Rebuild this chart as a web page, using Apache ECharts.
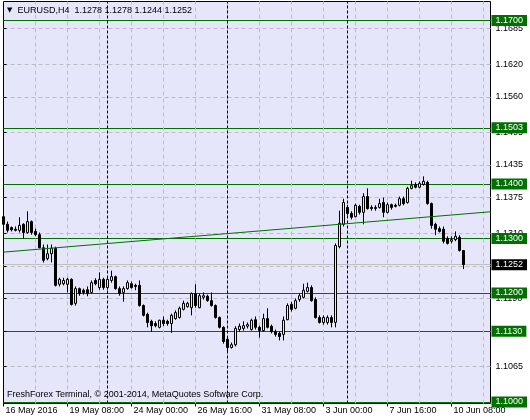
<!DOCTYPE html>
<html><head><meta charset="utf-8">
<script src="https://cdn.jsdelivr.net/npm/echarts@6/dist/echarts.min.js"></script>
<style>html,body{margin:0;padding:0;background:#fff}#c{width:530px;height:420px}</style>
</head><body><div id="c"></div>
<script>
// EURUSD H4 bars, 16 May 2016 16:00 .. 10 Jun 2016 20:00 (bar index 0..115)
const opens = [1.1340,1.1326,1.1320,1.1317,1.1315,1.1326,1.1311,1.1331,1.1313,1.1307,
1.1283,1.1263,1.1272,1.1282,1.1216,1.1217,1.1216,1.1225,1.1181,1.1208,
1.1205,1.1206,1.1201,1.1223,1.1210,1.1225,1.1210,1.1223,1.1230,1.1208,
1.1201,1.1208,1.1217,1.1214,1.1214,1.1177,1.1161,1.1148,1.1144,1.1137,
1.1150,1.1148,1.1144,1.1153,1.1155,1.1170,1.1175,1.1173,1.1199,1.1173,
1.1192,1.1194,1.1186,1.1177,1.1155,1.1137,1.1115,1.1100,1.1105,1.1133,
1.1135,1.1139,1.1133,1.1151,1.1137,1.1131,1.1153,1.1139,1.1129,1.1126,
1.1124,1.1151,1.1179,1.1172,1.1188,1.1192,1.1203,1.1210,1.1188,1.1155,
1.1146,1.1146,1.1155,1.1146,1.1285,1.1326,1.1357,1.1346,1.1340,1.1359,
1.1348,1.1377,1.1357,1.1355,1.1357,1.1366,1.1348,1.1362,1.1361,1.1361,
1.1373,1.1366,1.1392,1.1399,1.1394,1.1399,1.1403,1.1364,1.1326,1.1318,
1.1317,1.1300,1.1295,1.1298,1.1302,1.1278];
const highs = [1.1346,1.1331,1.1322,1.1322,1.1339,1.1328,1.1350,1.1333,1.1318,1.1311,
1.1289,1.1289,1.1289,1.1285,1.1228,1.1228,1.1228,1.1227,1.1212,1.1210,
1.1208,1.1212,1.1223,1.1227,1.1238,1.1228,1.1230,1.1241,1.1232,1.1212,
1.1212,1.1223,1.1221,1.1217,1.1223,1.1179,1.1164,1.1151,1.1148,1.1151,
1.1157,1.1151,1.1162,1.1168,1.1175,1.1186,1.1184,1.1201,1.1216,1.1199,
1.1201,1.1197,1.1201,1.1179,1.1157,1.1139,1.1118,1.1109,1.1139,1.1144,
1.1148,1.1146,1.1153,1.1157,1.1140,1.1162,1.1172,1.1142,1.1133,1.1129,
1.1157,1.1181,1.1184,1.1190,1.1199,1.1217,1.1219,1.1214,1.1192,1.1159,
1.1159,1.1159,1.1159,1.1291,1.1351,1.1373,1.1362,1.1350,1.1364,1.1362,
1.1383,1.1392,1.1361,1.1361,1.1373,1.1375,1.1366,1.1364,1.1364,1.1377,
1.1377,1.1395,1.1406,1.1403,1.1405,1.1414,1.1406,1.1366,1.1329,1.1322,
1.1322,1.1304,1.1304,1.1313,1.1306,1.1278];
const lows = [1.1322,1.1311,1.1313,1.1313,1.1311,1.1300,1.1309,1.1307,1.1304,1.1282,
1.1256,1.1260,1.1256,1.1212,1.1212,1.1214,1.1201,1.1177,1.1177,1.1195,
1.1197,1.1194,1.1199,1.1214,1.1206,1.1206,1.1206,1.1219,1.1206,1.1195,
1.1184,1.1206,1.1208,1.1205,1.1175,1.1157,1.1137,1.1129,1.1137,1.1135,
1.1139,1.1140,1.1127,1.1151,1.1153,1.1168,1.1173,1.1159,1.1173,1.1172,
1.1188,1.1184,1.1175,1.1153,1.1135,1.1107,1.1091,1.1098,1.1102,1.1129,
1.1131,1.1135,1.1131,1.1133,1.1118,1.1129,1.1135,1.1126,1.1120,1.1113,
1.1113,1.1150,1.1166,1.1170,1.1184,1.1190,1.1201,1.1184,1.1153,1.1144,
1.1142,1.1142,1.1137,1.1137,1.1282,1.1322,1.1342,1.1335,1.1339,1.1344,
1.1326,1.1353,1.1351,1.1351,1.1355,1.1339,1.1346,1.1353,1.1357,1.1359,
1.1361,1.1364,1.1390,1.1392,1.1392,1.1397,1.1362,1.1318,1.1306,1.1311,
1.1291,1.1289,1.1291,1.1295,1.1276,1.1244];
const closes = [1.1326,1.1315,1.1316,1.1315,1.1324,1.1311,1.1331,1.1311,1.1307,1.1283,
1.1260,1.1272,1.1282,1.1214,1.1225,1.1223,1.1225,1.1179,1.1208,1.1199,
1.1201,1.1199,1.1219,1.1217,1.1225,1.1210,1.1225,1.1230,1.1208,1.1199,
1.1208,1.1219,1.1210,1.1212,1.1177,1.1159,1.1146,1.1140,1.1140,1.1150,
1.1144,1.1144,1.1159,1.1164,1.1172,1.1181,1.1181,1.1199,1.1177,1.1195,
1.1195,1.1186,1.1177,1.1155,1.1137,1.1111,1.1100,1.1105,1.1135,1.1139,
1.1140,1.1142,1.1150,1.1137,1.1131,1.1153,1.1137,1.1129,1.1124,1.1120,
1.1150,1.1177,1.1170,1.1186,1.1195,1.1205,1.1210,1.1186,1.1155,1.1146,
1.1155,1.1155,1.1146,1.1287,1.1328,1.1366,1.1346,1.1339,1.1361,1.1348,
1.1377,1.1355,1.1355,1.1357,1.1364,1.1348,1.1362,1.1357,1.1359,1.1373,
1.1364,1.1392,1.1397,1.1394,1.1401,1.1405,1.1364,1.1324,1.1317,1.1313,
1.1295,1.1291,1.1298,1.1304,1.1278,1.1252];

const xTickIndex = [0,16,32,48,64,80,96,112];
const xTickLabels = ['16 May 2016','19 May 08:00','24 May 00:00','26 May 16:00','31 May 08:00','3 Jun 00:00','7 Jun 16:00','10 Jun 08:00'];
const gridBars = [8,16,24,32,40,48,56,64,72,80,88,96,104,112,120];
const separatorBars = [26,56,86];
const yTickValues = [1.1685,1.1620,1.1560,1.1495,1.1435,1.1375,1.1310,1.1250,1.1190,1.1130,1.1065];
const levelValues = [1.1700,1.1503,1.1400,1.1300,1.1200,1.1130,1.1000];
const bidPrice = 1.1252;
const trendIdx = [0, 121.75];
const trendVal = [1.1275, 1.1349];
const titleText = 'EURUSD,H4  1.1278 1.1278 1.1244 1.1252';
const copyrightText = 'FreshForex Terminal, \u00a9 2001-2014, MetaQuotes Software Corp.';

const xMax = 121.75, yMin = 1.0997248, yMax = 1.1734862;
const FONT = 'Liberation Sans, Arial, sans-serif';
const plotBg = '#E6E6FA';
const green = '#007000';

const candleData = opens.map((o, i) => [i, o, closes[i], lows[i], highs[i]]);
const labelMap = {};
xTickIndex.forEach((v, k) => { labelMap[v] = xTickLabels[k]; });

const hiddenY = (vals, lineStyle) => ({
  type: 'value', position: 'right', min: yMin, max: yMax,
  axisLine: {show: false}, axisLabel: {show: false},
  axisTick: {show: false, customValues: vals},
  splitLine: {show: true, lineStyle: lineStyle}
});

const chart = echarts.init(document.getElementById('c'), null, {renderer: 'canvas'});
chart.setOption({
  animation: false,
  backgroundColor: '#ffffff',
  textStyle: {fontFamily: FONT},
  title: [
    {text: '{t|\u25BC}  ' + titleText, left: 7, top: 6, padding: 0,
     textStyle: {fontSize: 9, fontWeight: 'normal', color: '#000', fontFamily: FONT,
       rich: {t: {fontSize: 7, fontFamily: 'DejaVu Sans', color: '#000'}}}},
    {text: copyrightText, left: 7, top: 390, padding: 0,
     textStyle: {fontSize: 9, fontWeight: 'normal', color: '#000', fontFamily: FONT}}
  ],
  grid: {left: 3.5, right: 39.5, top: 1.5, bottom: 16.5, show: true,
    backgroundColor: plotBg, borderColor: '#000', borderWidth: 1, containLabel: false},
  xAxis: {type: 'value', min: 0, max: xMax, interval: 16,
    axisLine: {show: false}, splitLine: {show: false},
    axisTick: {show: true, length: 3, lineStyle: {color: '#000'}},
    axisLabel: {formatter: v => labelMap[v] || '', align: 'left', margin: 3,
      fontSize: 9, color: '#000', fontFamily: FONT, padding: [0, 0, 0, 2],
      showMinLabel: true, showMaxLabel: false}},
  yAxis: [
    {type: 'value', position: 'right', min: yMin, max: yMax,
     axisLine: {show: false},
     splitLine: {show: true, lineStyle: {color: '#BDBDC8', type: [4, 3], width: 1}},
     axisTick: {show: true, length: 3, customValues: yTickValues, lineStyle: {color: '#000'}},
     axisLabel: {customValues: yTickValues, formatter: v => v.toFixed(4), margin: 5,
       fontSize: 9, color: '#000', fontFamily: FONT}},
    hiddenY([bidPrice], {color: '#C0C0C0', type: 'solid', width: 1}),
    hiddenY(levelValues, {color: green, type: 'solid', width: 1})
  ],
  series: [
    {type: 'line', data: [], silent: true, z: 1,
     markLine: {silent: true, z: 1, precision: 4, symbol: ['none', 'none'], label: {show: false}, animation: false,
       lineStyle: {color: '#BDBDC8', type: [4, 3], width: 1},
       data: gridBars.map(i => ({xAxis: i}))}},
    {type: 'line', data: [], silent: true, z: 1,
     markLine: {silent: true, z: 1, precision: 4, symbol: ['none', 'none'], label: {show: false}, animation: false,
       lineStyle: {color: '#000', type: [3, 2], width: 1},
       data: separatorBars.map(i => ({xAxis: i}))}},
    {type: 'candlestick', data: candleData, encode: {x: 0, y: [1, 2, 3, 4]},
     barWidth: 3, z: 2, clip: true, silent: true,
     itemStyle: {color: plotBg, color0: '#000', borderColor: '#000', borderColor0: '#000', borderWidth: 1}},
    {type: 'line', data: [], silent: true, z: 4,
     markLine: {silent: true, z: 4, precision: 4, symbol: ['none', 'none'], animation: false,
       lineStyle: {color: 'rgba(0,0,0,0)', width: 0},
       label: {show: true, position: 'end', distance: 1, formatter: p => Number(p.value).toFixed(4),
         backgroundColor: '#000', color: '#fff', fontSize: 9, fontFamily: FONT,
         padding: [1, 4, 0, 4], lineHeight: 10},
       data: [{yAxis: bidPrice}]}},
    {type: 'line', data: trendIdx.map((x, k) => [x, trendVal[k]]), symbol: 'none', silent: true, z: 3,
     lineStyle: {color: green, width: 1}, clip: true,
     markLine: {silent: true, z: 4, precision: 4, symbol: ['none', 'none'], animation: false,
       lineStyle: {color: 'rgba(0,0,0,0)', width: 0},
       label: {show: true, position: 'end', distance: 1, formatter: p => Number(p.value).toFixed(4),
         backgroundColor: green, color: '#fff', fontSize: 9, fontFamily: FONT,
         padding: [1, 4, 0, 4], lineHeight: 10},
       data: levelValues.map(v => ({yAxis: v}))}}
  ]
});
</script></body></html>
